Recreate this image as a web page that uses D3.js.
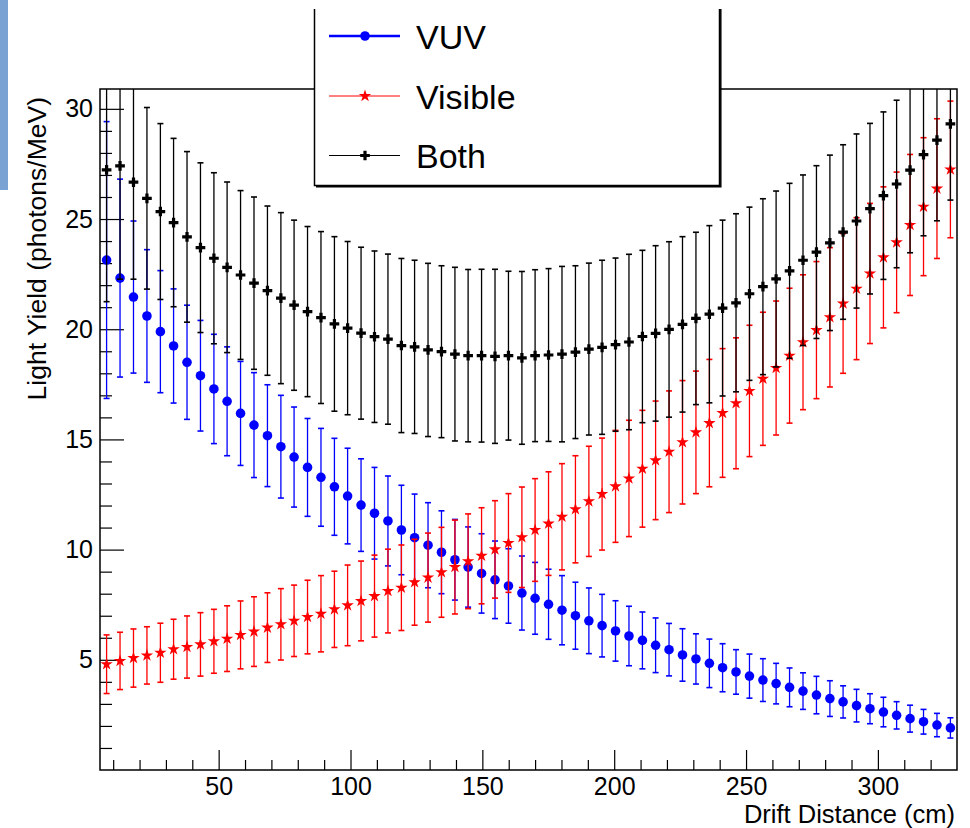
<!DOCTYPE html>
<html>
<head>
<meta charset="utf-8">
<script src="https://cdn.jsdelivr.net/npm/d3@7"></script>
<style>
  body { margin: 0; background: #fff; }
  text { font-family: "Liberation Sans", Arial, Helvetica, sans-serif; fill: #000; }
</style>
</head>
<body>
<script>
// bin centres along the drift direction (cm)
const driftDistance = [7.5, 12.6, 17.7, 22.8, 27.9, 32.9, 38.0, 43.1, 48.2, 53.2,
    58.3, 63.4, 68.5, 73.6, 78.6, 83.7, 88.8, 93.9, 98.9, 104.0,
    109.1, 114.2, 119.3, 124.3, 129.4, 134.5, 139.6, 144.6, 149.7, 154.8,
    159.9, 165.0, 170.0, 175.1, 180.2, 185.3, 190.4, 195.4, 200.5, 205.6,
    210.7, 215.7, 220.8, 225.9, 231.0, 236.1, 241.1, 246.2, 251.3, 256.4,
    261.4, 266.5, 271.6, 276.7, 281.8, 286.8, 291.9, 297.0, 302.1, 307.1,
    312.2, 317.3, 322.4, 327.5];

const vuvYield = [23.14, 22.32, 21.46, 20.6, 19.89, 19.24, 18.5, 17.89, 17.29, 16.73,
    16.18, 15.65, 15.17, 14.67, 14.2, 13.73, 13.28, 12.85, 12.43, 12.02,
    11.65, 11.3, 10.89, 10.54, 10.2, 9.88, 9.54, 9.21, 8.92, 8.63,
    8.35, 8.03, 7.79, 7.52, 7.25, 7.0, 6.77, 6.55, 6.31, 6.08,
    5.88, 5.66, 5.46, 5.22, 5.04, 4.84, 4.64, 4.45, 4.26, 4.08,
    3.92, 3.75, 3.58, 3.4, 3.24, 3.09, 2.92, 2.78, 2.63, 2.48,
    2.33, 2.19, 2.04, 1.91];
const vuvErr = [6.28, 4.49, 3.45, 3.01, 2.77, 2.59, 2.59, 2.51, 2.48, 2.47,
    2.36, 2.38, 2.31, 2.33, 2.27, 2.22, 2.22, 2.2, 2.17, 2.1,
    2.08, 2.04, 2.03, 1.98, 1.93, 1.88, 1.83, 1.82, 1.8, 1.76,
    1.69, 1.68, 1.63, 1.59, 1.57, 1.52, 1.49, 1.42, 1.37, 1.35,
    1.29, 1.24, 1.19, 1.19, 1.14, 1.1, 1.09, 1.01, 1.0, 0.97,
    0.92, 0.88, 0.83, 0.85, 0.81, 0.73, 0.74, 0.68, 0.67, 0.62,
    0.61, 0.56, 0.53, 0.46];

const visYield = [4.8, 4.95, 5.08, 5.2, 5.32, 5.48, 5.58, 5.7, 5.84, 5.96,
    6.13, 6.28, 6.46, 6.61, 6.77, 6.94, 7.09, 7.29, 7.47, 7.67,
    7.89, 8.12, 8.27, 8.52, 8.73, 8.97, 9.21, 9.47, 9.72, 10.01,
    10.3, 10.56, 10.89, 11.18, 11.49, 11.83, 12.19, 12.52, 12.87, 13.23,
    13.67, 14.05, 14.44, 14.87, 15.32, 15.74, 16.2, 16.64, 17.2, 17.75,
    18.24, 18.8, 19.41, 19.96, 20.54, 21.17, 21.84, 22.53, 23.26, 23.94,
    24.73, 25.56, 26.38, 27.25];
const visErr = [1.33, 1.3, 1.32, 1.3, 1.34, 1.36, 1.41, 1.44, 1.45, 1.49,
    1.54, 1.58, 1.58, 1.62, 1.62, 1.67, 1.73, 1.73, 1.83, 1.81,
    1.86, 1.9, 1.94, 1.95, 2.02, 2.04, 2.13, 2.15, 2.18, 2.21,
    2.24, 2.28, 2.33, 2.35, 2.41, 2.43, 2.5, 2.54, 2.54, 2.64,
    2.65, 2.69, 2.76, 2.8, 2.78, 2.89, 2.92, 2.97, 2.98, 3.02,
    3.04, 3.06, 3.06, 3.11, 3.16, 3.17, 3.22, 3.18, 3.2, 3.19,
    3.2, 3.13, 3.17, 3.1];

const bothYield = [27.23, 27.41, 26.67, 25.94, 25.34, 24.84, 24.19, 23.7, 23.22, 22.81,
    22.46, 22.09, 21.75, 21.41, 21.09, 20.8, 20.53, 20.24, 20.05, 19.82,
    19.66, 19.55, 19.26, 19.2, 19.06, 18.98, 18.87, 18.8, 18.8, 18.77,
    18.8, 18.7, 18.8, 18.83, 18.87, 18.96, 19.1, 19.18, 19.3, 19.42,
    19.67, 19.81, 19.99, 20.22, 20.49, 20.68, 20.96, 21.2, 21.61, 21.93,
    22.28, 22.65, 23.13, 23.5, 23.92, 24.41, 24.91, 25.47, 26.06, 26.59,
    27.22, 27.92, 28.58, 29.32];
const bothErr = [5.98, 5.14, 4.4, 4.12, 3.99, 3.82, 3.87, 3.85, 3.88, 3.87,
    3.83, 3.91, 3.84, 3.88, 3.86, 3.86, 3.9, 3.96, 3.93, 3.9,
    3.89, 3.86, 3.95, 3.93, 3.93, 3.9, 3.94, 3.91, 3.92, 3.95,
    3.83, 3.92, 3.9, 3.92, 3.98, 3.92, 3.9, 3.95, 3.93, 3.98,
    3.91, 3.98, 3.98, 3.98, 3.91, 4.02, 3.99, 4.04, 3.93, 3.99,
    3.99, 3.97, 3.87, 3.92, 3.98, 3.96, 3.95, 3.87, 3.8, 3.8,
    3.75, 3.68, 3.66, 3.46];

const xTicks = [50, 100, 150, 200, 250, 300];
const yTicks = [5, 10, 15, 20, 25, 30];
const xTitle = "Drift Distance (cm)";
const yTitle = "Light Yield (photons/MeV)";
const legendLabels = ["VUV", "Visible", "Both"];

document.addEventListener("DOMContentLoaded", function() {

    const svg = d3.select("body").append("svg")
        .attr("width", 970)
        .attr("height", 828);

    // plot frame
    const left = 100, right = 957, top = 89, bottom = 770;

    const x = d3.scaleLinear().domain([5, 330]).range([left, right]);
    const y = d3.scaleLinear().domain([0, 30.9]).range([bottom, top]);

    // little blue tab at the top-left edge of the canvas
    svg.append("rect")
        .attr("x", 0).attr("y", 0)
        .attr("width", 8).attr("height", 190)
        .attr("fill", "#7aa2d3");

    svg.append("defs").append("clipPath")
        .attr("id", "plotClip")
        .append("rect")
        .attr("x", left).attr("y", top)
        .attr("width", right - left).attr("height", bottom - top);

    // axes, ticks drawn inward like ROOT
    const minorX = d3.range(10, 330, 10).filter(v => !xTicks.includes(v));
    const minorY = d3.range(1, 31, 1).filter(v => !yTicks.includes(v));

    svg.append("g")
        .attr("transform", `translate(0,${bottom})`)
        .call(d3.axisBottom(x).tickValues(xTicks).tickSize(-20).tickPadding(7));
    svg.append("g")
        .attr("transform", `translate(0,${bottom})`)
        .call(d3.axisBottom(x).tickValues(minorX).tickSize(-10).tickFormat(""));

    svg.append("g")
        .attr("transform", `translate(${left},0)`)
        .call(d3.axisLeft(y).tickValues(yTicks).tickSize(-24).tickPadding(7));
    svg.append("g")
        .attr("transform", `translate(${left},0)`)
        .call(d3.axisLeft(y).tickValues(minorY).tickSize(-12).tickFormat(""));

    svg.selectAll(".domain").remove();
    svg.selectAll(".tick line").attr("stroke", "#000").attr("stroke-width", 1.2);
    svg.selectAll(".tick text")
        .style("font-family", '"Liberation Sans", Arial, sans-serif')
        .style("font-size", "25px")
        .attr("fill", "#000");

    // data
    const series = [
        { name: legendLabels[0], vals: vuvYield, errs: vuvErr, color: "#0000ff",
          symbol: d3.symbolCircle, size: 72 },
        { name: legendLabels[1], vals: visYield, errs: visErr, color: "#ff0000",
          symbol: d3.symbolStar, size: 48 },
        { name: legendLabels[2], vals: bothYield, errs: bothErr, color: "#000000",
          symbol: d3.symbolCross, size: 52 }
    ];

    const plot = svg.append("g").attr("clip-path", "url(#plotClip)");

    series.forEach(s => {
        const pts = driftDistance.map((d, i) => ({ x: d, v: s.vals[i], e: s.errs[i] }));
        const g = plot.append("g");

        g.selectAll("line.bar")
            .data(pts)
            .enter().append("line")
            .attr("class", "bar")
            .attr("x1", d => x(d.x)).attr("x2", d => x(d.x))
            .attr("y1", d => y(d.v - d.e)).attr("y2", d => y(d.v + d.e))
            .attr("stroke", s.color).attr("stroke-width", 1.3);

        [-1, 1].forEach(sign => {
            g.selectAll(null)
                .data(pts)
                .enter().append("line")
                .attr("x1", d => x(d.x) - 3).attr("x2", d => x(d.x) + 3)
                .attr("y1", d => y(d.v + sign * d.e)).attr("y2", d => y(d.v + sign * d.e))
                .attr("stroke", s.color).attr("stroke-width", 1.6);
        });

        g.selectAll("path.mark")
            .data(pts)
            .enter().append("path")
            .attr("class", "mark")
            .attr("transform", d => `translate(${x(d.x)},${y(d.v)})`)
            .attr("d", d3.symbol().type(s.symbol).size(s.size))
            .attr("fill", s.color);
    });

    // frame
    svg.append("rect")
        .attr("x", left).attr("y", top)
        .attr("width", right - left).attr("height", bottom - top)
        .attr("fill", "none")
        .attr("stroke", "#000")
        .attr("stroke-width", 1.5);

    // axis titles
    svg.append("text")
        .attr("x", 955).attr("y", 822.5)
        .attr("text-anchor", "end")
        .style("font-size", "25.5px")
        .text(xTitle);

    svg.append("text")
        .attr("transform", "translate(46,97) rotate(-90)")
        .attr("text-anchor", "end")
        .style("font-size", "26.5px")
        .text(yTitle);

    // legend (top edge sits off the canvas)
    const lg = svg.append("g");
    lg.append("rect")
        .attr("x", 314).attr("y", 9)
        .attr("width", 405).attr("height", 176)
        .attr("fill", "#fff");
    lg.append("path")
        .attr("d", "M314.5,9V185.5H719.5V9")
        .attr("fill", "none")
        .attr("stroke", "#000")
        .attr("stroke-width", 1.5);
    lg.append("path")
        .attr("d", "M316,186.8H720.8V9")
        .attr("fill", "none")
        .attr("stroke", "#000")
        .attr("stroke-width", 1.5);

    const rowY = [36, 96, 155.5];
    const lineW = [2.5, 1, 1];
    series.forEach((s, i) => {
        lg.append("line")
            .attr("x1", 329).attr("x2", 400)
            .attr("y1", rowY[i]).attr("y2", rowY[i])
            .attr("stroke", s.color).attr("stroke-width", lineW[i]);
        lg.append("path")
            .attr("transform", `translate(365,${rowY[i]})`)
            .attr("d", d3.symbol().type(s.symbol).size(s.size))
            .attr("fill", s.color);
        lg.append("text")
            .attr("x", 416).attr("y", rowY[i] + 12.5)
            .style("font-size", "34px")
            .text(s.name);
    });
});
</script>
</body>
</html>
